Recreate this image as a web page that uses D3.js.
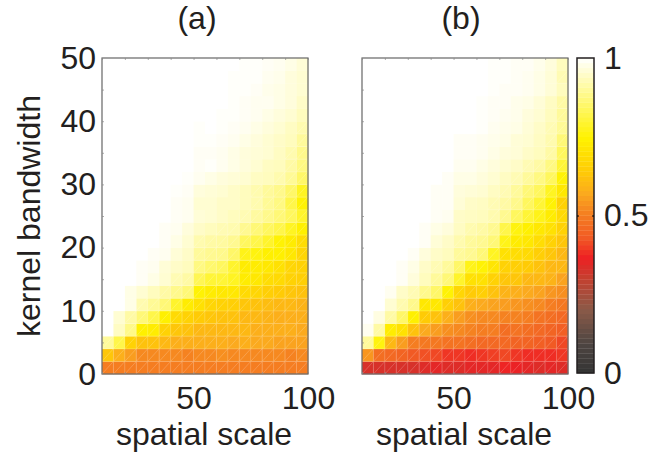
<!DOCTYPE html>
<html>
<head>
<meta charset="utf-8">
<script src="https://cdn.jsdelivr.net/npm/d3@7"></script>
<style>
body { margin: 0; background: #fff; }
text { font-family: "Liberation Sans", Arial, sans-serif; fill: #231f20; }
</style>
</head>
<body>
<div id="chart"></div>
<script>
//tick labels
var xTicks = [50, 100];
var yTicks = [0, 10, 20, 30, 40, 50];
var barTicks = [0, 0.5, 1];
var xMinorTicks = [10, 20, 30, 40, 50, 60, 70, 80, 90, 100];
var yMinorTicks = [5, 10, 15, 20, 25, 30, 35, 40, 45];

//colour map, value then colour
var mapValues = [0, 0.095, 0.2, 0.3, 0.365, 0.43, 0.51, 0.57, 0.64, 0.746, 1];
var mapColors = ["#333333", "#4f4642", "#8a5a48", "#c4402f", "#ee2024", "#f15a24", "#f58220", "#fbaa1e", "#ffcb05", "#fff200", "#ffffff"];

//panel (a), rows go from the bottom (bandwidth 0-2) to the top (48-50)
var valuesA = [
  [.50,.50,.50,.50,.50,.50,.50,.50,.50,.50,.50,.50,.50,.50,.50,.50,.50,.50],
  [.63,.58,.55,.52,.52,.52,.52,.51,.52,.52,.53,.52,.52,.52,.52,.52,.51,.52],
  [.90,.82,.66,.62,.62,.60,.58,.58,.58,.58,.58,.57,.58,.57,.57,.56,.56,.56],
  [1,.94,.88,.74,.73,.66,.63,.62,.60,.60,.60,.60,.60,.58,.58,.58,.58,.57],
  [1,.955,.91,.865,.82,.74,.68,.66,.64,.63,.62,.62,.60,.60,.59,.58,.58,.58],
  [1,1,.975,.92,.895,.865,.79,.73,.70,.67,.66,.65,.63,.62,.61,.60,.60,.59],
  [1,1,.975,.955,.935,.91,.885,.865,.75,.73,.72,.72,.68,.67,.65,.64,.63,.62],
  [1,1,1,.99,.975,.955,.925,.91,.83,.80,.80,.78,.73,.72,.69,.68,.66,.65],
  [1,1,1,.99,.985,.96,.945,.935,.875,.855,.84,.79,.73,.73,.72,.70,.67,.66],
  [1,1,1,1,.99,.985,.96,.945,.90,.89,.885,.85,.77,.76,.74,.74,.72,.67],
  [1,1,1,1,1,.99,.975,.955,.92,.91,.905,.89,.84,.82,.79,.75,.73,.69],
  [1,1,1,1,1,.99,.985,.965,.945,.935,.925,.92,.89,.865,.84,.82,.78,.74],
  [1,1,1,1,1,1,.99,.985,.96,.955,.945,.935,.925,.905,.885,.865,.84,.79],
  [1,1,1,1,1,1,.99,.985,.955,.955,.945,.945,.935,.92,.895,.875,.82,.75],
  [1,1,1,1,1,1,.995,.99,.965,.96,.955,.945,.935,.92,.90,.885,.85,.78],
  [1,1,1,1,1,1,1,.995,.985,.975,.965,.96,.955,.94,.935,.92,.895,.85],
  [1,1,1,1,1,1,1,1,.99,.995,.985,.975,.965,.955,.94,.935,.91,.875],
  [1,1,1,1,1,1,1,1,.99,.99,.985,.975,.965,.96,.955,.94,.92,.885],
  [1,1,1,1,1,1,1,1,.995,.995,.99,.985,.975,.965,.955,.945,.935,.90],
  [1,1,1,1,1,1,1,1,.995,1,.995,.99,.985,.975,.965,.955,.94,.92],
  [1,1,1,1,1,1,1,1,1,1,.995,.995,.99,.985,.975,.965,.955,.935],
  [1,1,1,1,1,1,1,1,1,1,1,.995,.99,.985,.985,.975,.965,.945],
  [1,1,1,1,1,1,1,1,1,1,1,.995,.995,.99,.98,.975,.965,.955],
  [1,1,1,1,1,1,1,1,1,1,1,.995,.995,.995,.985,.98,.965,.955],
  [1,1,1,1,1,1,1,1,1,1,1,1,.995,.995,.99,.985,.975,.96]
];

//panel (b), same order
var valuesB = [
  [.33,.33,.33,.33,.33,.34,.35,.34,.34,.35,.35,.35,.37,.36,.35,.34,.35,.34],
  [.54,.47,.46,.45,.43,.42,.41,.39,.39,.38,.39,.40,.41,.39,.38,.38,.38,.39],
  [.90,.76,.60,.55,.50,.49,.49,.48,.48,.47,.46,.46,.46,.45,.45,.44,.43,.41],
  [.985,.91,.73,.70,.62,.57,.55,.53,.52,.51,.50,.50,.47,.48,.47,.46,.45,.44],
  [1,.97,.91,.85,.74,.64,.62,.58,.55,.53,.52,.52,.51,.51,.50,.48,.47,.46],
  [1,1,.955,.92,.885,.72,.72,.65,.62,.58,.57,.56,.55,.54,.53,.52,.50,.49],
  [1,1,.985,.945,.925,.885,.85,.75,.67,.64,.65,.62,.59,.58,.57,.56,.54,.53],
  [1,1,1,.99,.965,.935,.90,.865,.79,.70,.70,.66,.63,.63,.60,.60,.59,.56],
  [1,1,1,.99,.975,.945,.925,.90,.85,.77,.75,.71,.66,.65,.64,.62,.60,.60],
  [1,1,1,1,.99,.965,.945,.935,.90,.89,.865,.78,.70,.69,.68,.65,.63,.60],
  [1,1,1,1,1,.99,.96,.945,.92,.90,.89,.865,.77,.73,.72,.69,.66,.63],
  [1,1,1,1,1,.99,.975,.965,.94,.92,.91,.89,.82,.76,.74,.72,.70,.66],
  [1,1,1,1,1,1,.99,.985,.945,.94,.935,.92,.89,.84,.80,.77,.73,.68],
  [1,1,1,1,1,1,.99,.99,.96,.945,.94,.925,.91,.885,.84,.80,.75,.66],
  [1,1,1,1,1,1,.99,.99,.965,.96,.955,.94,.925,.90,.865,.84,.78,.72],
  [1,1,1,1,1,1,1,.99,.975,.975,.965,.955,.94,.925,.90,.875,.84,.75],
  [1,1,1,1,1,1,1,1,.985,.985,.975,.965,.955,.945,.925,.91,.875,.80],
  [1,1,1,1,1,1,1,1,.99,.99,.985,.975,.965,.96,.945,.935,.91,.84],
  [1,1,1,1,1,1,1,1,.99,.99,.985,.98,.975,.96,.955,.94,.92,.865],
  [1,1,1,1,1,1,1,1,1,1,.995,.985,.98,.975,.96,.945,.925,.895],
  [1,1,1,1,1,1,1,1,1,1,.995,.99,.985,.98,.965,.955,.935,.90],
  [1,1,1,1,1,1,1,1,1,1,.995,.99,.99,.98,.975,.96,.94,.91],
  [1,1,1,1,1,1,1,1,1,1,1,.995,.99,.99,.985,.975,.96,.935],
  [1,1,1,1,1,1,1,1,1,1,1,.995,.995,.99,.985,.975,.96,.925],
  [1,1,1,1,1,1,1,1,1,1,1,.995,.995,.99,.99,.98,.965,.935]
];

var svg = d3.select("#chart").append("svg")
    .attr("width", 658)
    .attr("height", 456)
    .style("display", "block");

var h0 = 374, h1 = 58;
var levels = 64;
var fontSize = "32px";

//cells use the map as is, the bar is stepped in 64 flat bands
var color = d3.scaleLinear().domain(mapValues).range(mapColors);
var bandColors = d3.range(levels).map(function(i) { return color((i + 0.5) / levels); });

function panel(values, left, right, title, titleX, labelCx, showY) {
    var x = d3.scaleLinear().domain([10, 100]).range([left, right]);
    var y = d3.scaleLinear().domain([0, 50]).range([h0, h1]);
    var g = svg.append("g");

    values.forEach(function(row, r) {
        row.forEach(function(v, c) {
            var x0 = x(10 + c * 5), x1 = x(15 + c * 5);
            var y0 = y(r * 2), y1 = y(r * 2 + 2);
            g.append("rect")
                .attr("x", x0).attr("y", y1)
                .attr("width", x1 - x0 + 0.3).attr("height", y0 - y1 + 0.3)
                .attr("fill", color(v));
            //the pale seams of the patches
            if (v < 0.93) {
                g.append("path")
                    .attr("d", "M" + x0 + "," + y0 + "L" + x1 + "," + y1 + "L" + x1 + "," + y0 + "Z")
                    .attr("fill", "none")
                    .attr("stroke", "#fff")
                    .attr("stroke-opacity", 0.28)
                    .attr("stroke-width", 0.7);
                g.append("path")
                    .attr("d", "M" + x0 + "," + y0 + "V" + y1 + "H" + x1)
                    .attr("fill", "none")
                    .attr("stroke", "#fff")
                    .attr("stroke-opacity", 0.18)
                    .attr("stroke-width", 0.7);
            }
        });
    });

    //box with small ticks
    g.append("rect")
        .attr("x", left).attr("y", h1)
        .attr("width", right - left).attr("height", h0 - h1)
        .attr("fill", "none")
        .attr("stroke", "#666")
        .attr("stroke-width", 1.2);

    var ticks = g.append("g");
    ticks.append("g").attr("transform", "translate(0," + h0 + ")")
        .call(d3.axisBottom(x).tickValues(xMinorTicks).tickSize(-2).tickFormat(""));
    ticks.append("g").attr("transform", "translate(0," + h1 + ")")
        .call(d3.axisTop(x).tickValues(xMinorTicks).tickSize(-2).tickFormat(""));
    ticks.append("g").attr("transform", "translate(" + left + ",0)")
        .call(d3.axisLeft(y).tickValues(yMinorTicks).tickSize(-2).tickFormat(""));
    ticks.selectAll(".domain").remove();
    ticks.selectAll(".tick line").attr("stroke", "#888").attr("stroke-width", 0.7);

    var labelX = d3.axisBottom(x).tickValues(xTicks).tickSize(0).tickPadding(12);
    var ax = g.append("g").attr("transform", "translate(0," + h0 + ")").call(labelX);
    ax.select(".domain").remove();
    ax.selectAll("text").style("font-size", fontSize).attr("fill", "#231f20");

    if (showY) {
        var labelY = d3.axisLeft(y).tickValues(yTicks).tickSize(0).tickPadding(6);
        var ay = g.append("g").attr("transform", "translate(" + left + ",0)").call(labelY);
        ay.select(".domain").remove();
        ay.selectAll("text").style("font-size", fontSize).attr("fill", "#231f20");
    }

    g.append("text")
        .attr("x", titleX).attr("y", 29)
        .attr("text-anchor", "middle")
        .style("font-size", fontSize)
        .text(title);

    g.append("text")
        .attr("x", labelCx).attr("y", 445)
        .attr("text-anchor", "middle")
        .style("font-size", fontSize)
        .text("spatial scale");
}

panel(valuesA, 102, 308, "(a)", 197, 204, true);
panel(valuesB, 362, 568, "(b)", 461, 464, false);

svg.append("text")
    .attr("transform", "translate(40,216) rotate(-90)")
    .attr("text-anchor", "middle")
    .style("font-size", fontSize)
    .text("kernel bandwidth");

//colour bar
var barY = d3.scaleLinear().domain([0, 1]).range([373, 58]);
svg.append("g").selectAll("rect")
    .data(bandColors)
    .join("rect")
    .attr("x", 577)
    .attr("width", 17)
    .attr("y", function(d, i) { return barY((i + 1) / levels); })
    .attr("height", function() { return barY(0) - barY(1 / levels) + 0.3; })
    .attr("fill", function(d) { return d; });

svg.append("rect")
    .attr("x", 577).attr("y", 58)
    .attr("width", 17).attr("height", 315)
    .attr("fill", "none")
    .attr("stroke", "#231f20")
    .attr("stroke-width", 1.5);

//little ticks at 0.5 on both sides of the bar
svg.append("g").attr("transform", "translate(577,0)")
    .call(d3.axisLeft(barY).tickValues([0.5]).tickSize(-2).tickFormat(""))
    .call(function(s) { s.select(".domain").remove(); });
svg.append("g").attr("transform", "translate(594,0)")
    .call(d3.axisRight(barY).tickValues([0.5]).tickSize(-2).tickFormat(""))
    .call(function(s) { s.select(".domain").remove(); });

var barAxis = d3.axisRight(barY).tickValues(barTicks).tickSize(0).tickPadding(10).tickFormat(d3.format("~g"));
var cb = svg.append("g").attr("transform", "translate(594,0)").call(barAxis);
cb.select(".domain").remove();
cb.selectAll("text").style("font-size", fontSize).attr("fill", "#231f20");
</script>
</body>
</html>
